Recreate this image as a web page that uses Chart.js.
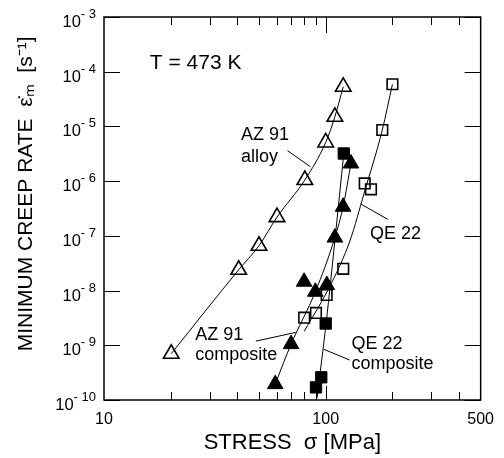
<!DOCTYPE html>
<html><head><meta charset="utf-8">
<script src="https://cdn.jsdelivr.net/npm/chart.js@4.4.1/dist/chart.umd.min.js"></script>
<style>html,body{margin:0;padding:0;background:#fff;}</style>
</head><body>
<canvas id="c" width="504" height="458" style="width:504px;height:458px;display:block"></canvas>
<script>
// ---------- data ----------
// AZ 91 alloy (open triangles)
const az91AlloyStress = [20.1, 40.5, 50, 60.3, 80.5, 100, 110, 120];
const az91AlloyRate   = [7e-10, 2.4e-8, 6.6e-8, 2.2e-7, 1.05e-6, 5.1e-6, 1.5e-5, 5.3e-5];
// AZ 91 composite (filled triangles)
const az91CompStress  = [59.2, 69.8, 79.9, 89.8, 101.2, 110, 119.8, 130];
const az91CompRate    = [1.95e-10, 1.05e-9, 1.45e-8, 9.5e-9, 1.26e-8, 9.3e-8, 3.4e-7, 2.1e-6];
// QE 22 alloy (open squares)
const qe22Stress      = [80, 90.4, 101, 120, 150, 160, 180, 200];
const qe22Rate        = [3.2e-9, 3.9e-9, 8.3e-9, 2.5e-8, 9.1e-7, 7.1e-7, 8.6e-6, 5.9e-5];
// QE 22 composite (filled squares)
const qe22CompStress  = [90.4, 95.5, 100, 120.7];
const qe22CompRate    = [1.7e-10, 2.6e-10, 2.5e-9, 3.2e-6];
// fitted curves drawn in the reference
const az91CompFitStress = [59.2, 69.8, 89.8, 110, 119.8, 130];
const az91CompFitRate   = [1.95e-10, 1.05e-9, 9.5e-9, 9.3e-8, 3.4e-7, 2.1e-6];
const qe22FitStress     = [80, 106, 129, 149, 180, 200];
const qe22FitRate       = [1.8e-9, 1.35e-8, 8.4e-8, 6e-7, 8.6e-6, 5.9e-5];
const qe22CompFitStress = [91.4, 100.5, 120.7];
const qe22CompFitRate   = [1.1e-10, 2.6e-9, 3.2e-6];
// axis ticks
const xTickValues = [10, 100, 500];
const xMinorTicks = [20, 30, 40, 50, 60, 70, 80, 90, 200, 300, 400];
const yTickValues = [1e-10, 1e-9, 1e-8, 1e-7, 1e-6, 1e-5, 1e-4, 1e-3];
const yTickExponents = ['-10', '-9', '-8', '-7', '-6', '-5', '-4', '-3'];
// ---------------------------------------------------

const pts = (xs, ys) => xs.map((x, i) => ({x: x, y: ys[i]}));
const FONT = "'Liberation Sans', Arial, Helvetica, sans-serif";

// annotation texts and leader lines (in data coordinates)
const notes = [
  {lines: ['T = 473 K'], x: 16.1, y: 1.44e-4, size: 21},
  {lines: ['AZ 91', 'alloy'], x: 41.5, y: [6.97e-6, 2.79e-6], size: 18},
  {lines: ['QE 22'], x: 158.6, y: 1.08e-7, size: 18},
  {lines: ['AZ 91', 'composite'], x: 25.8, y: [1.53e-9, 6.62e-10], size: 18},
  {lines: ['QE 22', 'composite'], x: 130.8, y: [1.05e-9, 4.53e-10], size: 18}
];
const leaders = [
  [[67.3, 3.6e-6], [85.4, 1.83e-6]],
  [[144.2, 3.81e-7], [190.6, 2.0e-7]],
  [[48.4, 1.19e-9], [73.3, 1.72e-9]],
  [[97.7, 8.5e-10], [128.2, 5.37e-10]]
];

const framePlugin = {
  id: 'frame',
  afterDraw(chart) {
    const ctx = chart.ctx, a = chart.chartArea;
    const xs = chart.scales.x, ys = chart.scales.y;
    ctx.save();
    ctx.strokeStyle = '#000';
    ctx.lineWidth = 1;
    ctx.beginPath();
    // x ticks (bottom & top), inward
    xMinorTicks.forEach(v => {
      const px = Math.round(xs.getPixelForValue(v)) + 0.5;
      ctx.moveTo(px, a.bottom); ctx.lineTo(px, a.bottom - 8);
      ctx.moveTo(px, a.top); ctx.lineTo(px, a.top + 8);
    });
    {
      const px = Math.round(xs.getPixelForValue(100)) + 0.5;
      ctx.moveTo(px, a.bottom); ctx.lineTo(px, a.bottom - 14);
      ctx.moveTo(px, a.top); ctx.lineTo(px, a.top + 16);
    }
    // y ticks (left & right), inward
    yTickValues.forEach(v => {
      const py = Math.round(ys.getPixelForValue(v)) + 0.5;
      ctx.moveTo(a.left, py); ctx.lineTo(a.left + 16, py);
      ctx.moveTo(a.right, py); ctx.lineTo(a.right - 16, py);
    });
    ctx.stroke();
    ctx.lineWidth = 1.5;
    ctx.strokeRect(a.left, a.top, a.right - a.left, a.bottom - a.top);

    // y tick labels: "10" with superscript exponent
    ctx.fillStyle = '#000';
    ctx.textBaseline = 'alphabetic';
    ctx.textAlign = 'right';
    yTickValues.forEach((v, i) => {
      const py = ys.getPixelForValue(v);
      const rightEdge = a.left - 8;
      ctx.font = '13px ' + FONT;
      const exp = yTickExponents[i].replace('-', '- ');
      const ew = ctx.measureText(exp).width;
      ctx.fillText(exp, rightEdge, py + 1);
      ctx.font = '16.5px ' + FONT;
      ctx.fillText('10', rightEdge - ew, py + 10);
    });

    // annotations
    ctx.lineWidth = 1;
    ctx.beginPath();
    leaders.forEach(l => {
      ctx.moveTo(xs.getPixelForValue(l[0][0]), ys.getPixelForValue(l[0][1]));
      ctx.lineTo(xs.getPixelForValue(l[1][0]), ys.getPixelForValue(l[1][1]));
    });
    ctx.stroke();
    ctx.textAlign = 'left';
    ctx.textBaseline = 'middle';
    notes.forEach(n => {
      ctx.font = n.size + 'px ' + FONT;
      const yv = Array.isArray(n.y) ? n.y : [n.y];
      n.lines.forEach((t, i) => {
        ctx.fillText(t, xs.getPixelForValue(n.x), ys.getPixelForValue(yv[i]));
      });
    });
    ctx.restore();
  }
};

const openStyle = {backgroundColor: 'rgba(0,0,0,0)', borderColor: '#000', pointBorderWidth: 1.6};
const fillStyle = {backgroundColor: '#000', borderColor: '#000', pointBorderWidth: 1};

new Chart(document.getElementById('c'), {
  type: 'scatter',
  data: {
    datasets: [
      Object.assign({label: 'AZ 91 alloy', data: pts(az91AlloyStress, az91AlloyRate), pointStyle: 'triangle', pointRadius: 9,
        showLine: true, borderWidth: 1, cubicInterpolationMode: 'monotone'}, openStyle),
      Object.assign({label: 'AZ 91 composite', data: pts(az91CompStress, az91CompRate), pointStyle: 'triangle', pointRadius: 9}, fillStyle),
      Object.assign({label: 'QE 22', data: pts(qe22Stress, qe22Rate), pointStyle: 'rect', pointRadius: 7.5}, openStyle),
      Object.assign({label: 'QE 22 composite', data: pts(qe22CompStress, qe22CompRate), pointStyle: 'rect', pointRadius: 8}, fillStyle),
      {label: 'AZ 91 composite fit', data: pts(az91CompFitStress, az91CompFitRate), showLine: true, pointRadius: 0,
        borderColor: '#000', borderWidth: 1, cubicInterpolationMode: 'monotone'},
      {label: 'QE 22 fit', data: pts(qe22FitStress, qe22FitRate), showLine: true, pointRadius: 0,
        borderColor: '#000', borderWidth: 1, cubicInterpolationMode: 'monotone'},
      {label: 'QE 22 composite fit', data: pts(qe22CompFitStress, qe22CompFitRate), showLine: true, pointRadius: 0,
        borderColor: '#000', borderWidth: 1, cubicInterpolationMode: 'monotone'}
    ]
  },
  options: {
    responsive: false,
    animation: false,
    devicePixelRatio: 1,
    layout: {padding: {top: 17, right: 15, left: 0, bottom: 0}},
    plugins: {legend: {display: false}, tooltip: {enabled: false}},
    elements: {point: {hoverRadius: 9}},
    scales: {
      x: {
        type: 'logarithmic', min: 10, max: 500, position: 'bottom',
        afterBuildTicks: s => { s.ticks = xTickValues.map(v => ({value: v})); },
        afterFit: s => { s.height = 58; },
        grid: {display: false, drawTicks: false},
        border: {display: false},
        ticks: {autoSkip: false, maxRotation: 0, padding: 10, color: '#000',
          font: {family: FONT, size: 16}, callback: v => String(v)},
        title: {display: true, text: 'STRESS  \u03C3 [MPa]', color: '#000',
          font: {family: FONT, size: 22}, padding: {top: 0, bottom: 2}}
      },
      y: {
        type: 'logarithmic', min: 1e-10, max: 1e-3, position: 'left',
        afterBuildTicks: s => { s.ticks = yTickValues.map(v => ({value: v})); },
        afterFit: s => { s.width = 104; },
        grid: {display: false, drawTicks: false},
        border: {display: false},
        ticks: {display: false},
        title: {display: true, text: '     MINIMUM CREEP RATE  \u03B5\u0307\u2098  [s\u207B\u00B9]', color: '#000',
          font: {family: FONT, size: 21}, padding: {top: 14, bottom: 0}}
      }
    }
  },
  plugins: [framePlugin]
});
</script>
</body></html>
